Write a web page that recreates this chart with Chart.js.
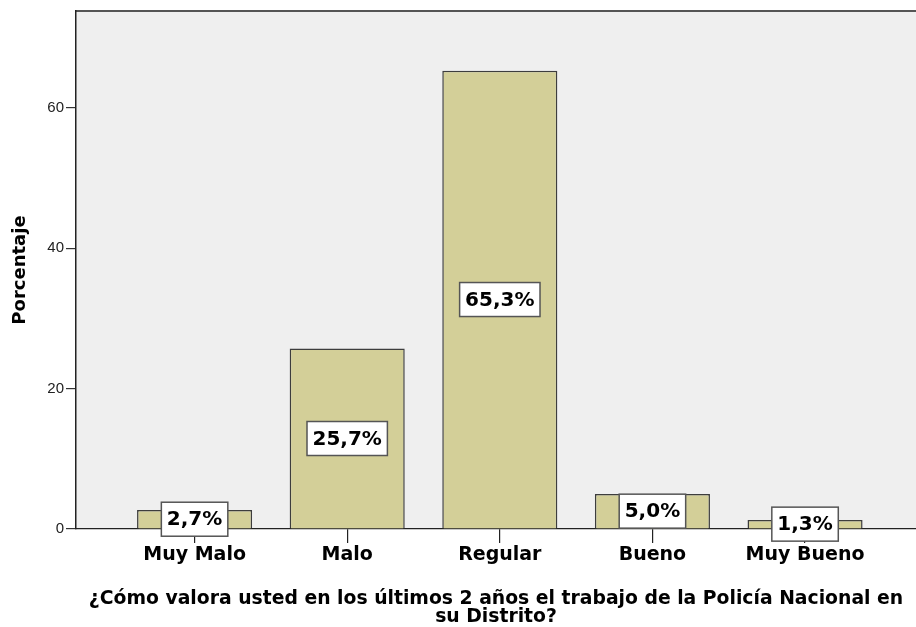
<!DOCTYPE html>
<html>
<head>
<meta charset="utf-8">
<script src="https://cdn.jsdelivr.net/npm/chart.js@4"></script>
<style>
  body { margin: 0; background: #fff; }
  canvas { display: block; }
</style>
</head>
<body>
<canvas id="chart" width="916" height="627"></canvas>
<script>
// categories and values
const categories = ['Muy Malo', 'Malo', 'Regular', 'Bueno', 'Muy Bueno'];
const percentages = [2.7, 25.7, 65.3, 5.0, 1.3];
const valueLabels = ['2,7%', '25,7%', '65,3%', '5,0%', '1,3%'];
const yTicks = [0, 20, 40, 60];
const xTitle = ['¿Cómo valora usted en los últimos 2 años el trabajo de la Policía Nacional en', 'su Distrito?'];
const yTitle = 'Porcentaje';

const points = percentages.map((v, i) => ({ x: i, y: v }));

// grey plot background + top frame line
const frame = {
  id: 'frame',
  beforeDraw(chart) {
    const { ctx, chartArea: a } = chart;
    ctx.save();
    ctx.fillStyle = '#efefef';
    ctx.fillRect(a.left, a.top, a.right - a.left, a.bottom - a.top);
    ctx.strokeStyle = '#555';
    ctx.lineWidth = 2;
    ctx.beginPath();
    ctx.moveTo(a.left, a.top);
    ctx.lineTo(a.right, a.top);
    ctx.stroke();
    ctx.restore();
  }
};

// white boxed labels in the middle of each bar
const boxLabels = {
  id: 'boxLabels',
  afterDatasetsDraw(chart) {
    const { ctx } = chart;
    const meta = chart.getDatasetMeta(0);
    ctx.save();
    ctx.font = 'bold 20px "DejaVu Sans"';
    ctx.textAlign = 'center';
    ctx.textBaseline = 'middle';
    meta.data.forEach((bar, i) => {
      const txt = valueLabels[i];
      const cy = (bar.y + bar.base) / 2;
      const w = ctx.measureText(txt).width + 11;
      const h = 34;
      ctx.fillStyle = '#fff';
      ctx.fillRect(bar.x - w / 2, cy - h / 2, w, h);
      ctx.strokeStyle = '#555';
      ctx.lineWidth = 1.5;
      ctx.strokeRect(bar.x - w / 2, cy - h / 2, w, h);
      ctx.fillStyle = '#000';
      ctx.fillText(txt, bar.x, cy + 1);
    });
    ctx.restore();
  }
};

const config = {
  type: 'bar',
  data: {
    datasets: [{
      data: points,
      backgroundColor: '#d3cf98',
      borderColor: '#3d3d3d',
      borderWidth: 1.5,
      borderSkipped: 'bottom',
      barPercentage: 0.754,
      categoryPercentage: 1
    }]
  },
  options: {
    responsive: false,
    animation: false,
    layout: { padding: { top: 10, left: 0, right: 0, bottom: 0 } },
    plugins: {
      legend: { display: false },
      tooltip: { enabled: false }
    },
    scales: {
      x: {
        type: 'linear',
        offset: false,
        min: -0.777,
        max: 4.727,
        afterBuildTicks(scale) {
          scale.ticks = categories.map((c, i) => ({ value: i }));
        },
        afterFit(scale) { scale.height = 98; },
        ticks: {
          autoSkip: false,
          maxRotation: 0,
          padding: 1,
          color: '#000',
          font: { family: 'DejaVu Sans', weight: 'bold', size: 19 },
          callback: (v) => categories[v] ?? ''
        },
        grid: { offset: false, drawOnChartArea: false, tickLength: 14, color: '#222', lineWidth: 1.2 },
        border: { display: true, color: '#222', width: 1.2 },
        title: {
          display: true,
          text: xTitle,
          color: '#000',
          font: { family: 'DejaVu Sans', weight: 'bold', size: 18.8, lineHeight: 1.0 },
          padding: { top: -3, bottom: 0 }
        }
      },
      y: {
        min: 0,
        max: 73.8,
        afterBuildTicks(scale) {
          scale.ticks = yTicks.map(v => ({ value: v }));
        },
        afterFit(scale) { scale.width = 76; },
        ticks: {
          padding: 2,
          color: '#222',
          font: { family: 'Liberation Sans', size: 15 }
        },
        grid: { drawOnChartArea: false, tickLength: 10, color: '#333', lineWidth: 1.2 },
        border: { display: true, color: '#222', width: 1.5 },
        title: {
          display: true,
          text: yTitle,
          color: '#000',
          font: { family: 'DejaVu Sans', weight: 'bold', size: 18 },
          padding: { top: 10, bottom: 0 }
        }
      }
    }
  },
  plugins: [frame, boxLabels]
};

const myChart = new Chart(document.getElementById('chart'), config);
</script>
</body>
</html>
